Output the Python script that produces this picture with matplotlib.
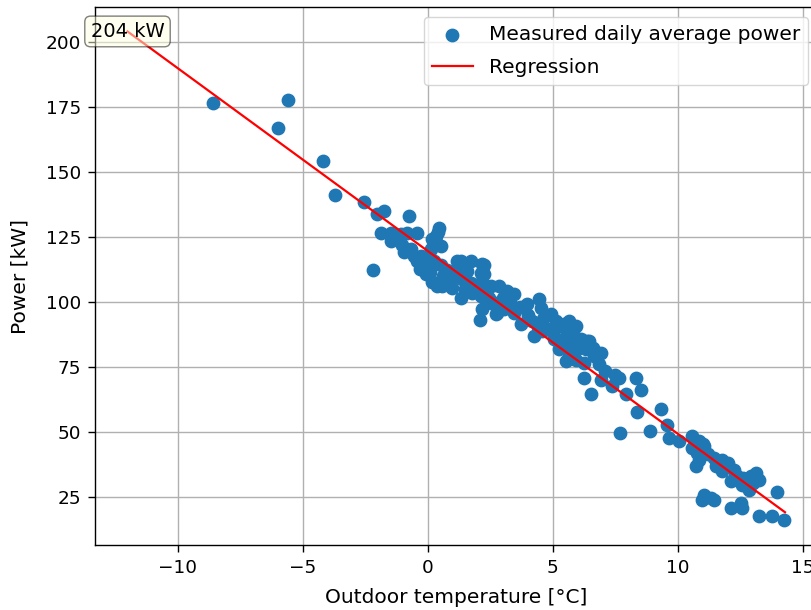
import numpy as np
import matplotlib
matplotlib.use("Agg")
import matplotlib.pyplot as plt

# daily average outdoor temperature [°C] and measured power [kW]
temps = [
    -8.6, -6.0, -5.6, -4.2, -3.7, -2.55, -1.75, -2.02, -0.76,
    -1.88, -1.48, -1.08, -0.81, -0.41, -1.48, -1.01, -0.68, -0.95, -0.55,
    -0.41, -0.28, -2.18, -0.30, -0.05, 0.19, -1.25, -0.2,
    0.45, 0.40, 0.32, 0.32, 0.19, 0.52, 0.25, 0.52, 0.79, 0.32, 0.59, 0.99,
    0.39, 0.1, 0.6, 0.9, 0.05, 0.15,
    1.19, 1.32, 1.72, 2.19, 1.19, 1.59, 2.12, 1.39, 1.72, 2.19, 2.25, 1.32,
    1.79, 2.12, 2.45, 2.72, 2.25, 2.25, 1.5, 1.0, 2.0,
    2.52, 2.85, 3.19, 3.45, 2.19, 2.1, 2.52, 2.72, 3.05, 3.45, 3.99, 4.45,
    4.52, 3.72, 4.19, 4.25, 4.59, 2.79, 3.0, 3.7, 4.0, 3.3,
    4.92, 5.12, 4.79, 5.05, 5.32, 5.65, 5.92, 5.72, 5.45, 5.79, 6.12, 6.39,
    5.25, 5.65, 5.99, 5.52, 6.25, 6.65, 6.85, 5.45, 5.85, 5.52, 6.45, 5.59,
    5.92, 6.32, 6.92, 6.25, 6.52, 6.92, 4.6, 5.0, 6.0, 6.6, 4.4,
    7.39, 7.65, 7.92, 8.32, 8.52, 8.39, 7.69, 8.89, 9.35, 9.59, 9.65, 10.05,
    7.1, 7.5,
    10.59, 10.85, 11.05, 10.59, 10.79, 10.85, 10.72, 11.45, 11.79, 11.52,
    11.92, 11.79, 12.25, 12.39, 12.12, 12.59, 12.85, 12.92, 13.12, 13.25,
    11.05, 11.32, 11.45, 10.99, 12.12, 12.52, 12.59, 13.99, 13.25, 13.79,
    14.25, 11.0, 11.2, 12.0, 12.6, 13.0, 11.6,
]
power = [
    176.5, 167.0, 177.8, 154.1, 141.3, 138.4, 135.1, 133.8, 133.0,
    126.5, 126.5, 126.3, 126.5, 126.6, 123.3, 121.8, 120.5, 119.2, 117.7,
    115.8, 117.6, 112.3, 112.5, 110.6, 107.6, 124.8, 114.0,
    128.6, 127.0, 125.3, 123.0, 124.1, 121.6, 115.8, 114.4, 112.3, 107.5, 106.2, 105.5,
    106.2, 111.5, 110.0, 108.5, 118.0, 120.5,
    115.8, 115.6, 115.6, 114.5, 112.6, 111.9, 111.3, 108.7, 107.5, 108.1, 105.5, 101.5,
    103.6, 102.3, 101.7, 99.8, 114.3, 110.7, 105.0, 109.5, 106.5,
    106.2, 106.2, 104.2, 103.0, 97.2, 93.0, 99.8, 95.3, 97.2, 95.9, 99.1, 101.0,
    97.8, 91.4, 92.7, 87.0, 88.9, 95.9, 101.5, 98.0, 95.0, 100.0,
    95.3, 92.7, 89.6, 85.6, 90.9, 92.7, 90.9, 88.2, 85.0, 84.4, 85.6, 85.0,
    81.8, 80.5, 81.8, 77.3, 76.7, 79.2, 76.0, 91.4, 90.1, 87.0, 85.0, 81.8,
    77.9, 81.8, 80.5, 70.9, 64.5, 70.2, 93.5, 88.0, 84.0, 82.5, 90.5,
    67.7, 70.9, 64.5, 70.9, 66.3, 57.7, 49.7, 50.3, 59.0, 52.9, 47.8, 46.5,
    73.5, 72.0,
    48.4, 46.5, 44.5, 43.9, 42.0, 39.4, 36.9, 40.1, 39.4, 36.9,
    36.9, 35.0, 35.6, 33.0, 31.1, 29.8, 27.9, 33.0, 34.3, 31.7,
    26.0, 24.7, 24.0, 24.0, 20.8, 22.8, 20.8, 26.8, 17.6, 17.6,
    16.3, 45.5, 41.5, 38.0, 32.5, 30.5, 38.5,
]

# regression line end points
reg_x = [-12.0, 14.3]
reg_y = [204.0, 19.2]
reg_label = "204 kW"

fig = plt.figure(figsize=(8.11, 6.1), dpi=100)
ax = fig.add_axes([95 / 811, 65 / 610, 723 / 811, 538 / 610])

ax.scatter(temps, power, s=80, color="#1f77b4", label="Measured daily average power", zorder=2)
ax.plot(reg_x, reg_y, color="red", lw=1.6, label="Regression", zorder=3)

ax.text(reg_x[0], reg_y[0], reg_label, ha="center", va="center", fontsize=14, zorder=4,
        bbox=dict(boxstyle="round", fc="lightyellow", ec="black", alpha=0.5))

ax.set_xlim(-13.3, 15.62)
ax.set_ylim(6.6, 213.4)
ax.set_xticks([-10, -5, 0, 5, 10, 15])
ax.set_yticks([25, 50, 75, 100, 125, 150, 175, 200])
ax.tick_params(labelsize=13.3, length=5, width=1, pad=5)
ax.set_xlabel("Outdoor temperature [°C]", fontsize=14.5, labelpad=8)
ax.set_ylabel("Power [kW]", fontsize=14.5, labelpad=12)
ax.grid(True, lw=1.0, zorder=0)
ax.set_axisbelow(True)
for s in ax.spines.values():
    s.set_linewidth(1.0)

ax.legend(loc="upper right", fontsize=14.5, labelspacing=0.7)

fig.savefig("out.png", dpi=100)
